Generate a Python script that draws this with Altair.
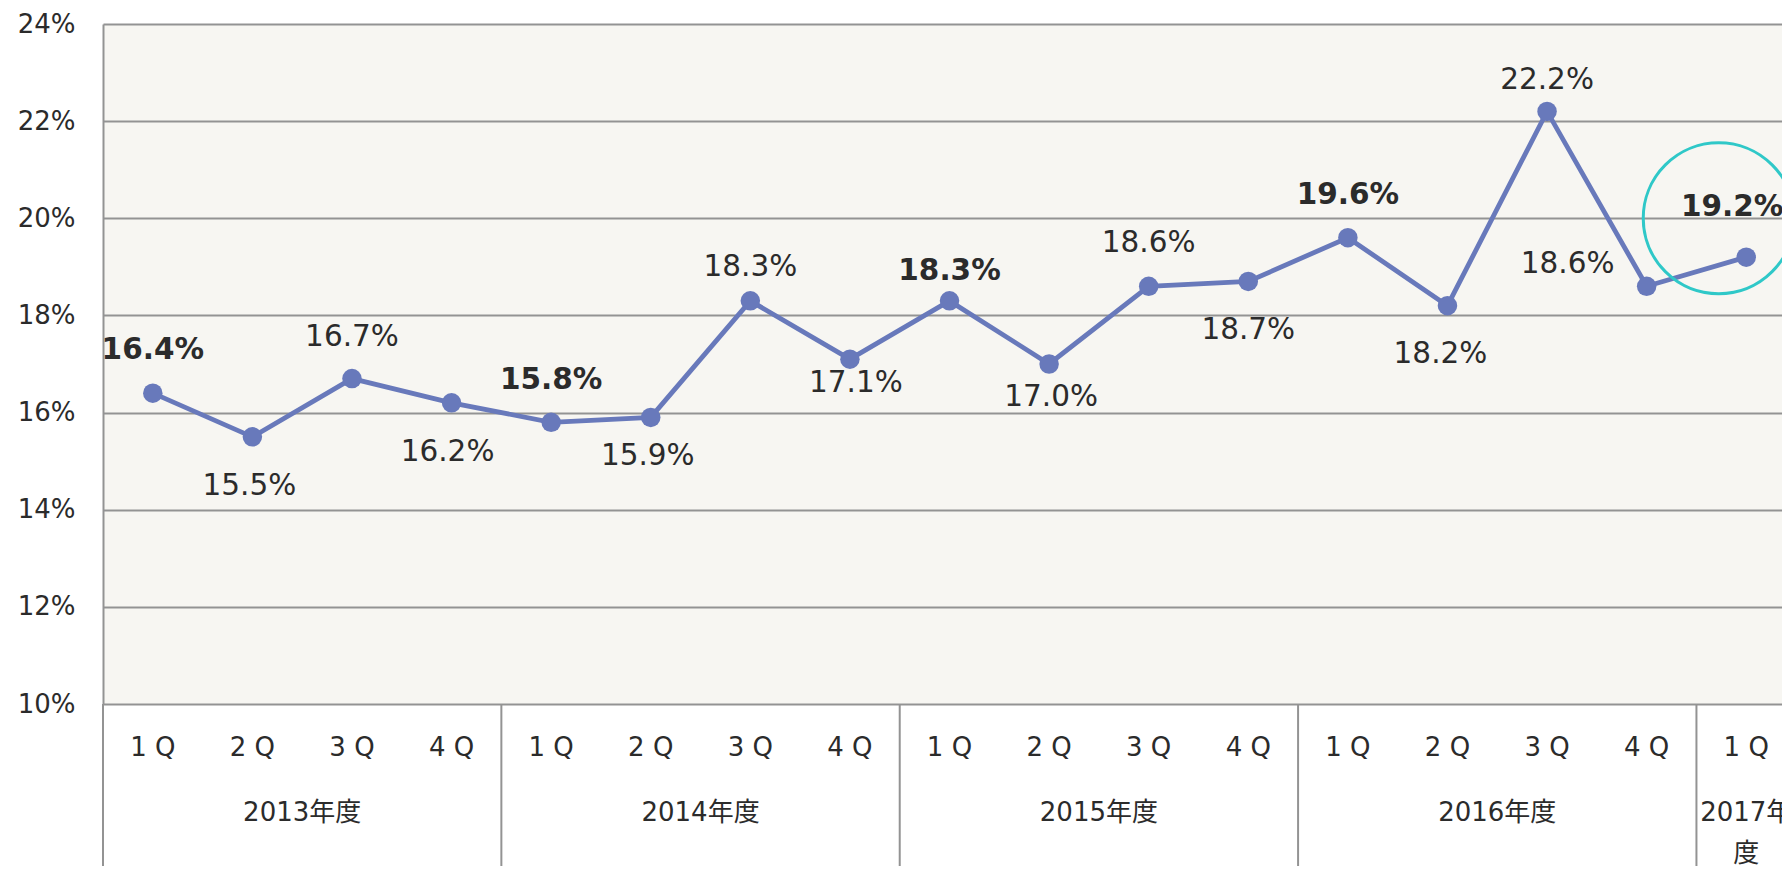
import altair as alt
import pandas as pd

# ---------------- data ----------------
fiscal_years = ["2013年度"] * 4 + ["2014年度"] * 4 + ["2015年度"] * 4 + ["2016年度"] * 4 + ["2017年度"]
quarters = ["1 Q", "2 Q", "3 Q", "4 Q"] * 4 + ["1 Q"]
values = [16.4, 15.5, 16.7, 16.2, 15.8, 15.9, 18.3, 17.1, 18.3, 17.0,
          18.6, 18.7, 19.6, 18.2, 22.2, 18.6, 19.2]
y_ticks = [10, 12, 14, 16, 18, 20, 22, 24]
highlight_index = 16      # highlighted (latest) quarter
highlight_center = 20.0   # circle centre, in %

# ---------------- label layout (pixel offsets from the point) ----------------
label_dx = [0, -3, 0, -4, 0, -3, 0, 6, 0, 2, 0, 0, 0, -7, 0, -79, -14]
label_dy = [-43, 49, -42, 49, -42, 39, -34, 24, -30, 33, -43, 49, -43, 48, -31, -22, -50]

# ---------------- layout ----------------
W, H = 1679, 680
STEP = 99.59                      # pixels per quarter
X_MIN = -0.5
X_MAX = X_MIN + W / STEP
Y_MIN, Y_MAX = 10, 24
PX_X = W / (X_MAX - X_MIN)
PX_Y = H / (Y_MAX - Y_MIN)

LINE_COLOR = "#6879BB"
TEXT_COLOR = "#2B2B2B"
GRID_COLOR = "#939393"
CIRCLE_COLOR = "#2FC8C8"
FONT = "DejaVu Sans"
FONT_JP = "DejaVu Sans, Noto Sans CJK JP"

pos = list(range(len(values)))
df = pd.DataFrame({
    "pos": pos,
    "year": fiscal_years,
    "quarter": quarters,
    "value": values,
})
df["label"] = df["value"].map(lambda v: f"{v:.1f}%")
df["bold"] = df["quarter"] == "1 Q"
df["lx"] = df["pos"] + pd.Series(label_dx) / PX_X
df["ly"] = df["value"] - pd.Series(label_dy) / PX_Y

yr = df.groupby("year", sort=False)["pos"].agg(["min", "max", "mean", "count"]).reset_index()
yr["start"] = yr["min"] - 0.5
yr["text"] = [y if c > 1 else y[:-1] + "\n" + y[-1] for y, c in zip(yr["year"], yr["count"])]

hl = pd.DataFrame({"x": [highlight_index - 27.5 / PX_X], "y": [highlight_center]})

xs = alt.Scale(domain=[X_MIN, X_MAX], nice=False, zero=False)
ys = alt.Scale(domain=[Y_MIN, Y_MAX], nice=False, zero=False)

base = alt.Chart(df)

line = base.mark_line(color=LINE_COLOR, strokeWidth=4.8).encode(
    x=alt.X("pos:Q", scale=xs, axis=None),
    y=alt.Y("value:Q", scale=ys, title=None,
            axis=alt.Axis(values=y_ticks, labelExpr="datum.value + '%'",
                          labelFontSize=26, labelFont=FONT, labelColor=TEXT_COLOR,
                          labelPadding=28, ticks=False, tickSize=0,
                          domain=True, domainColor=GRID_COLOR, domainWidth=2,
                          grid=True, gridColor=GRID_COLOR, gridWidth=2)),
)

points = base.mark_circle(size=380, opacity=1, color=LINE_COLOR).encode(
    x=alt.X("pos:Q", scale=xs),
    y=alt.Y("value:Q", scale=ys),
)

labels_norm = base.transform_filter("!datum.bold").mark_text(
    fontSize=29.5, font=FONT, color=TEXT_COLOR, baseline="middle", align="center"
).encode(
    x=alt.X("lx:Q", scale=xs),
    y=alt.Y("ly:Q", scale=ys),
    text="label:N",
)

labels_bold = base.transform_filter("datum.bold").mark_text(
    fontSize=29.5, font=FONT, color=TEXT_COLOR, fontWeight="bold", baseline="middle", align="center"
).encode(
    x=alt.X("lx:Q", scale=xs),
    y=alt.Y("ly:Q", scale=ys),
    text="label:N",
)

circle = alt.Chart(hl).mark_point(
    shape="circle", size=151 * 151, filled=False, stroke=CIRCLE_COLOR,
    strokeWidth=3, opacity=1, clip=True
).encode(
    x=alt.X("x:Q", scale=xs),
    y=alt.Y("y:Q", scale=ys),
)

q_labels = base.mark_text(
    fontSize=26, font=FONT, color=TEXT_COLOR, baseline="middle", align="center"
).encode(
    x=alt.X("pos:Q", scale=xs),
    y=alt.value(H + 44),
    text="quarter:N",
)

y_labels = alt.Chart(yr).mark_text(
    fontSize=26, font=FONT_JP, color=TEXT_COLOR, baseline="top", align="center",
    lineBreak="\n", lineHeight=41
).encode(
    x=alt.X("mean:Q", scale=xs),
    y=alt.value(H + 96),
    text="text:N",
)

separators = alt.Chart(yr).mark_rule(color=GRID_COLOR, strokeWidth=2).encode(
    x=alt.X("start:Q", scale=xs),
    y=alt.value(H),
    y2=alt.value(H + 162),
)

chart = alt.layer(
    line, points, labels_norm, labels_bold, circle, q_labels, y_labels, separators
).properties(
    width=W, height=H,
    autosize=alt.AutoSizeParams(type="none"),
    padding={"left": 95, "top": 16, "right": 0, "bottom": 162},
    background="white",
).configure_view(
    fill="#F7F6F2", stroke=None
)

chart.save("out.html", embed_options={"renderer": "svg", "actions": False})
